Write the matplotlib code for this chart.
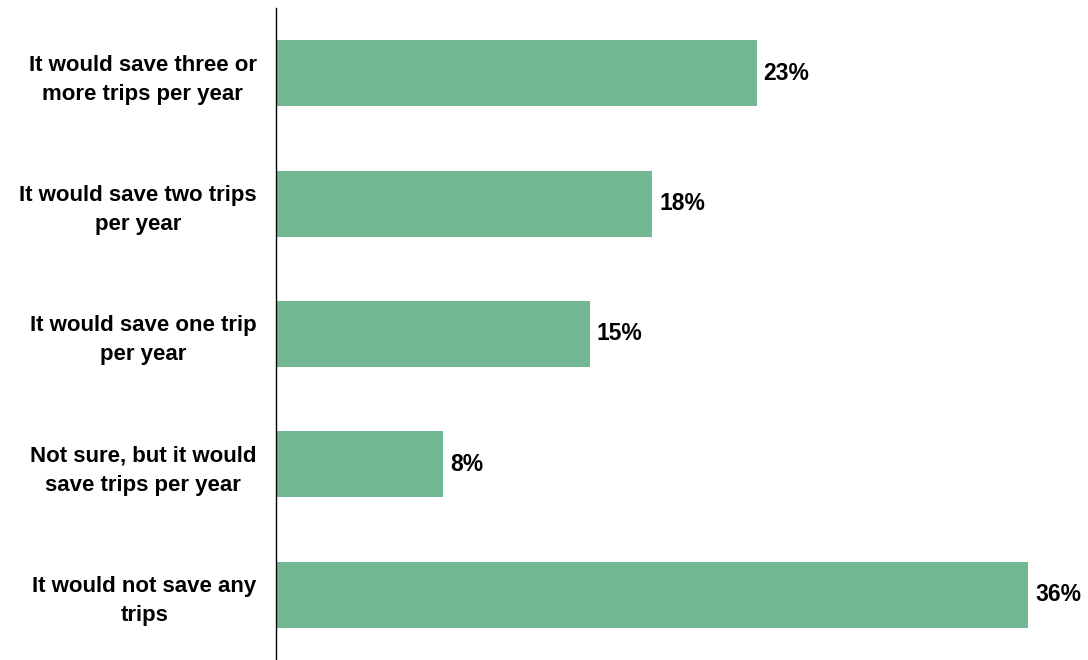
import matplotlib
matplotlib.use("Agg")
import matplotlib.pyplot as plt

categories = [
    "It would save three or\nmore trips per year",
    "It would save two trips\nper year",
    "It would save one trip\nper year",
    "Not sure, but it would\nsave trips per year",
    "It would not save any\ntrips",
]
values = [23, 18, 15, 8, 36]
value_labels = ["23%", "18%", "15%", "8%", "36%"]

plt.rcParams["font.family"] = ["Liberation Sans", "DejaVu Sans"]

fig = plt.figure(figsize=(10.88, 6.60), dpi=100)
ax = fig.add_axes([276 / 1088, 0.0, 1 - 276 / 1088, 1 - 8 / 660])

bar_color = "#72B892"
ypos = list(range(len(categories)))
ax.barh(ypos, values, height=0.505, color=bar_color)

ax.set_ylim(len(categories) - 0.5, -0.5)
ax.set_xlim(0, 812 / 20.9)

for y, v, lab in zip(ypos, values, value_labels):
    ax.annotate(lab, xy=(v, y), xytext=(5, 0), textcoords="offset points",
                ha="left", va="center", fontsize=16.5, fontweight="bold")

ax.set_yticks(ypos)
ax.set_yticklabels(categories, fontsize=16, fontweight="bold",
                   multialignment="center", linespacing=1.5)
ax.tick_params(axis="y", length=0, pad=14)
ax.set_xticks([])

for side in ["top", "right", "bottom"]:
    ax.spines[side].set_visible(False)
ax.spines["left"].set_linewidth(1.0)
ax.spines["left"].set_color("black")

fig.savefig("out.png", dpi=100)
